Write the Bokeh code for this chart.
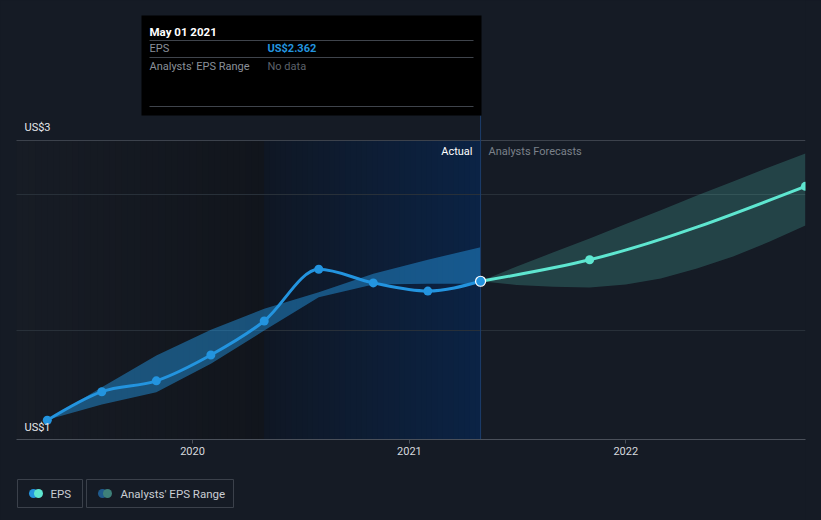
import numpy as np
import pandas as pd
from bokeh.plotting import figure
from bokeh.models import Range1d, FixedTicker, DatetimeTickFormatter
from bokeh.core.properties import value
from bokeh.embed import file_html
from bokeh.resources import INLINE

# ---------------- data ----------------
actual_dates = ["2019-05-01", "2019-08-01", "2019-11-01", "2020-02-01", "2020-05-01",
                "2020-08-01", "2020-11-01", "2021-02-01", "2021-05-01"]
actual_eps = [1.34, 1.55, 1.63, 1.82, 2.07, 2.45, 2.35, 2.29, 2.362]
actual_low = [1.343, 1.456, 1.546, 1.755, 2.00, 2.245, 2.338, 2.343, 2.343]
actual_high = [1.343, 1.583, 1.816, 2.005, 2.160, 2.282, 2.417, 2.520, 2.613]

forecast_dates = ["2021-05-01", "2021-11-01", "2022-10-31"]
forecast_eps = [2.362, 2.52, 3.06]

range_dates = ["2021-05-01", "2021-07-01", "2021-09-01", "2021-11-01", "2022-01-01",
               "2022-03-01", "2022-05-01", "2022-07-01", "2022-09-01", "2022-10-31"]
range_low = [2.362, 2.335, 2.321, 2.316, 2.338, 2.382, 2.456, 2.544, 2.654, 2.772]
range_high = [2.362, 2.471, 2.575, 2.676, 2.783, 2.884, 2.993, 3.096, 3.202, 3.301]

year_ticks = ["2020-01-01", "2021-01-01", "2022-01-01"]
grid_values = [2, 3]
y_labels = ["US$3", "US$1"]
legend_labels = ["EPS", "Analysts' EPS Range"]

# ---------------- styling / layout ----------------
FONT = value("Roboto")
BG = "#151b25"
BLUE = "#2394df"
TEAL = "#5ee6d0"
W, H = 821, 520

# page-pixel anchors used only to place the plot on the page
YEAR_PX, PX_2020 = 216.5, 192.0
VAL_PX, PX_2 = 136.0, 330.0
X0 = pd.Timestamp("2020-01-01") - pd.Timedelta(days=365.25 * PX_2020 / YEAR_PX)
X1 = X0 + pd.Timedelta(days=365.25 * W / YEAR_PX)
Y1 = 2 + PX_2 / VAL_PX
Y0 = Y1 - H / VAL_PX


def sx(px):
    return X0 + (X1 - X0) * (px / W)


def sy(py):
    return Y1 - (Y1 - Y0) * (py / H)


def ms(ts):
    return [t.value / 1e6 for t in ts]


ad = [pd.Timestamp(d) for d in actual_dates]
fd = [pd.Timestamp(d) for d in forecast_dates]
rd = [pd.Timestamp(d) for d in range_dates]
last = ad[-1]
LEFT, RIGHT = sx(16), sx(805)
TOPV, AXV = sy(140), sy(439)

p = figure(width=W, height=H, x_axis_type="datetime",
           x_range=Range1d(X0, X1), y_range=Range1d(Y0, Y1),
           output_backend="svg", toolbar_location=None, min_border=0)
p.background_fill_color = BG
p.border_fill_color = BG
p.outline_line_color = None
p.yaxis.visible = False
p.xgrid.visible = False
p.ygrid.visible = False
p.styles = {"background-color": BG}


def lerp(c1, c2, t):
    a = [int(c1[i:i + 2], 16) for i in (1, 3, 5)]
    b = [int(c2[i:i + 2], 16) for i in (1, 3, 5)]
    return "#%02x%02x%02x" % tuple(round(a[k] + (b[k] - a[k]) * t) for k in range(3))


def gradient(x_from, x_to, c1, c2, n=40):
    step = (x_to - x_from) / n
    lefts = [x_from + step * i for i in range(n)]
    rights = [x_from + step * (i + 1) + (step * 0.6 if i < n - 1 else step * 0) for i in range(n)]
    cols = [lerp(c1, c2, (i + 0.5) / n) for i in range(n)]
    p.quad(left=lefts, right=rights, top=[TOPV] * n, bottom=[AXV] * n,
           fill_color=cols, line_color=None)


def monotone_bezier(xs, ys, **kw):
    """Smooth monotone-x curve through the points, drawn with bezier glyphs."""
    x = np.asarray(xs, float)
    y = np.asarray(ys, float)
    n = len(x)
    h = np.diff(x)
    s = np.diff(y) / h
    m = np.zeros(n)
    for i in range(1, n - 1):
        h0, h1, s0, s1 = h[i - 1], h[i], s[i - 1], s[i]
        pp = (s0 * h1 + s1 * h0) / (h0 + h1)
        m[i] = (np.sign(s0) + np.sign(s1)) * min(abs(s0), abs(s1), 0.5 * abs(pp))
    m[0] = (3 * s[0] - m[1]) / 2 if n > 2 else s[0]
    m[-1] = (3 * s[-1] - m[-2]) / 2 if n > 2 else s[-1]
    p.bezier(x0=x[:-1], y0=y[:-1], x1=x[1:], y1=y[1:],
             cx0=x[:-1] + h / 3, cy0=y[:-1] + m[:-1] * h / 3,
             cx1=x[1:] - h / 3, cy1=y[1:] - m[1:] * h / 3, **kw)


one_year_before = last - pd.DateOffset(years=1)
gradient(LEFT, one_year_before, "#171c25", "#11151c")
gradient(one_year_before, last, "#0f1724", "#0b2345")

# grid lines and top boundary
p.segment(x0=[LEFT] * len(grid_values), x1=[RIGHT] * len(grid_values),
          y0=grid_values, y1=grid_values, line_color="#283039", line_width=1)
p.segment(x0=[LEFT], x1=[RIGHT], y0=[TOPV], y1=[TOPV], line_color="#3c424c", line_width=1)

# ranges
p.varea(x=ad, y1=actual_low, y2=actual_high, fill_color=BLUE, fill_alpha=0.48)
p.varea(x=rd, y1=range_low, y2=range_high, fill_color=TEAL, fill_alpha=0.2)

# divider
p.segment(x0=[last], x1=[last], y0=[AXV], y1=[sy(115)], line_color="#1c3d6b", line_width=1)

# lines
monotone_bezier(ms(fd), forecast_eps, line_color=TEAL, line_width=3)
p.scatter(fd[1:], forecast_eps[1:], size=9, fill_color=TEAL, line_color=None)
monotone_bezier(ms(ad), actual_eps, line_color=BLUE, line_width=3)
p.scatter(ad[:-1], actual_eps[:-1], size=9, fill_color=BLUE, line_color=None)
p.scatter([ad[-1]], [actual_eps[-1]], size=10, fill_color=BLUE, line_color="white", line_width=1.2)

# mask right of the chart area
p.quad(left=[RIGHT], right=[X1], top=[Y1], bottom=[Y0], fill_color=BG, line_color=None)

# section labels
p.text(x=[sx(472)], y=[sy(151)], text=["Actual"], text_font=FONT, text_font_size="11px",
       text_color="#ffffff", text_align="right", text_baseline="middle")
p.text(x=[sx(488)], y=[sy(151)], text=["Analysts Forecasts"], text_font=FONT,
       text_font_size="11px", text_color="#7b818a", text_align="left", text_baseline="middle")

# y labels
p.text(x=[sx(24), sx(24)], y=[sy(127), sy(427)], text=y_labels, text_font=FONT,
       text_font_size="11px", text_color="#e6e8eb", text_align="left", text_baseline="middle")

# tooltip
p.quad(left=[sx(141)], right=[sx(481)], top=[sy(15)], bottom=[sy(115)],
       fill_color="#000000", line_color=None)
p.segment(x0=[sx(149)] * 3, x1=[sx(473)] * 3, y0=[sy(40), sy(57), sy(106)],
          y1=[sy(40), sy(57), sy(106)], line_color="#3f444c", line_width=1)
p.text(x=[sx(149)], y=[sy(31)], text=[last.strftime("%b %d %Y")], text_font=FONT,
       text_font_size="11.5px", text_font_style="bold", text_color="#ffffff",
       text_baseline="middle")
p.text(x=[sx(149), sx(149)], y=[sy(48), sy(65.5)], text=["EPS", "Analysts' EPS Range"],
       text_font=FONT, text_font_size="11px", text_color="#8a9099", text_baseline="middle")
p.text(x=[sx(267)], y=[sy(48)], text=["US$%.3f" % actual_eps[-1]], text_font=FONT,
       text_font_size="11px", text_font_style="bold", text_color=BLUE, text_baseline="middle")
p.text(x=[sx(267)], y=[sy(65.5)], text=["No data"], text_font=FONT,
       text_font_size="11px", text_color="#5d626a", text_baseline="middle")

# x axis, fixed at the bottom of the chart area
p.xaxis.fixed_location = AXV
p.xaxis.bounds = (LEFT, RIGHT)
p.xaxis.ticker = FixedTicker(ticks=[pd.Timestamp(t).value // 10**6 for t in year_ticks])
p.xaxis.formatter = DatetimeTickFormatter(years="%Y", months="%Y", days="%Y", hours="%Y",
                                          minutes="%Y", seconds="%Y", milliseconds="%Y",
                                          microseconds="%Y", hourmin="%Y", minsec="%Y")
p.xaxis.axis_line_color = "#4a505a"
p.xaxis.major_tick_line_color = "#4a505a"
p.xaxis.minor_tick_line_color = None
p.xaxis.major_tick_out = 4
p.xaxis.major_tick_in = 0
p.xaxis.major_label_standoff = 3
p.xaxis.major_label_text_font = "Roboto"
p.xaxis.major_label_text_font_size = "11px"
p.xaxis.major_label_text_color = "#d5d9de"

# ---------------- legend ----------------
p.quad(left=[sx(17), sx(86)], right=[sx(82), sx(233)], top=[sy(479)] * 2, bottom=[sy(507)] * 2,
       fill_alpha=0, line_color="#3b414b", line_width=1)
p.scatter([sx(33), sx(102)], [sy(493)] * 2, size=9, fill_color=[BLUE, "#1f5a8c"], line_color=None)
p.scatter([sx(38), sx(107)], [sy(493)] * 2, size=9, fill_color=[TEAL, "#3e8079"], line_color=None)
p.text(x=[sx(50), sx(120)], y=[sy(493)] * 2, text=legend_labels, text_font=FONT,
       text_font_size="11.5px", text_color="#c9cdd3", text_baseline="middle")

open("out.html", "w").write(file_html(p, INLINE))
